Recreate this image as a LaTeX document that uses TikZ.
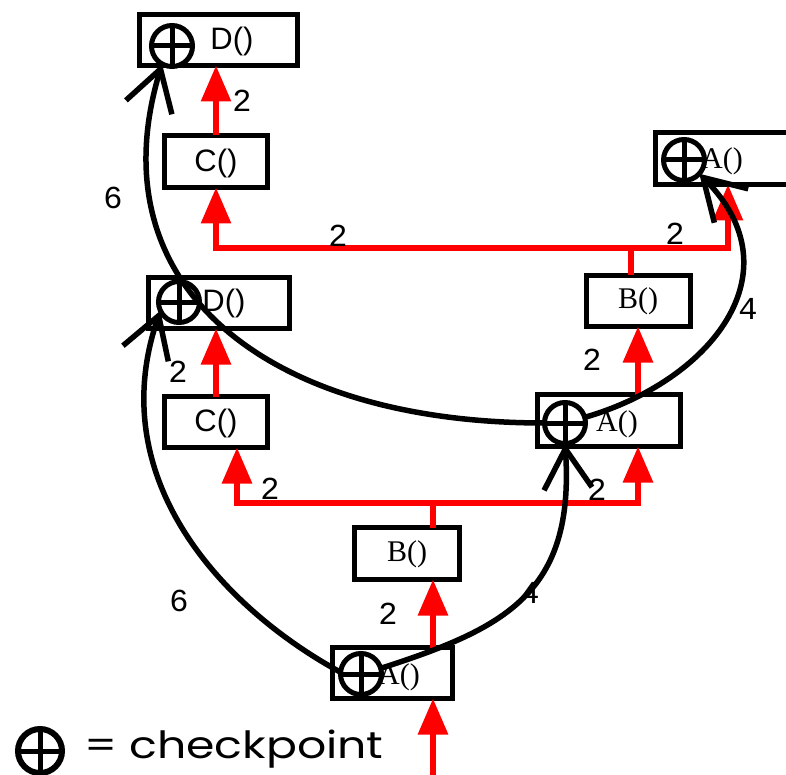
\documentclass[tikz,border=0pt]{standalone}
\usepackage{fontspec}
\usetikzlibrary{arrows.meta}
\newfontfamily\boxsans{Liberation Sans}
\newfontfamily\boxserif{Liberation Serif}
\newfontfamily\nummono{Liberation Mono}
\newfontfamily\legendfont[FakeStretch=1.22]{Poppins}
\tikzset{
  box/.style={draw=black, line width=5pt, fill=white, inner sep=0pt, outer sep=0pt},
  cpsym/.style={circle, draw=black, fill=white, line width=5pt, minimum size=41pt, inner sep=0pt, outer sep=0pt,
    path picture={\draw[line width=5pt] (path picture bounding box.north) -- (path picture bounding box.south)
      (path picture bounding box.west) -- (path picture bounding box.east);}},
  sanstext/.style={font=\boxsans\fontsize{31}{31}\selectfont, inner sep=0pt},
  seriftext/.style={font=\boxserif\fontsize{30}{30}\selectfont, inner sep=0pt},
  numlabel/.style={font=\nummono\fontsize{32}{32}\selectfont, inner sep=0pt},
  redline/.style={draw=red, line width=6pt},
  redarrow/.style={draw=red, line width=6pt, -{Triangle[length=36pt,width=29pt]}},
  ckarrow/.style={draw=black, line width=5.5pt, -{Straight Barb[length=40pt,width=48pt,line width=5.5pt]}}
}
\begin{document}
\begin{tikzpicture}[x=1pt,y=-1pt]
\useasboundingbox (0,0) rectangle (786,775);
\clip (0,0) rectangle (786,775);
% boxes
\node[box, minimum width=158pt, minimum height=51pt] (D1) at (218.5,40) {};
\node[box, minimum width=103pt, minimum height=52pt] (C1) at (216,161.5) {};
\node[box, minimum width=155pt, minimum height=52pt] (A1) at (733,158.5) {};
\node[box, minimum width=104pt, minimum height=51pt] (B1) at (638.5,301) {};
\node[box, minimum width=141pt, minimum height=51pt] (D2) at (219,303) {};
\node[box, minimum width=103pt, minimum height=51pt] (C2) at (216,422) {};
\node[box, minimum width=143pt, minimum height=52pt] (A2) at (609,420.5) {};
\node[box, minimum width=105pt, minimum height=52pt] (B2) at (407,553.5) {};
\node[box, minimum width=120pt, minimum height=51pt] (A3) at (392.5,673) {};
% box texts
\node[sanstext] (tD1) at (232,41) {D()};
\node[sanstext] (tC1) at (216,163) {C()};
\node[seriftext] (tA1) at (722,161) {A()};
\node[seriftext] (tB1) at (638,301) {B()};
\node[sanstext] (tD2) at (224,303) {D()};
\node[sanstext] (tC2) at (216,423) {C()};
\node[seriftext] (tA2) at (617,424) {A()};
\node[seriftext] (tB2) at (407,554) {B()};
\node[seriftext] (tA3) at (399,677) {A()};
% checkpoint symbols
\node[cpsym] (cpD1) at (172,46) {};
\node[cpsym] (cpA1) at (684,160) {};
\node[cpsym] (cpD2) at (179,302) {};
\node[cpsym] (cpA2) at (565,423) {};
\node[cpsym] (cpA3) at (361,674) {};
% red call edges
\coordinate (in) at (433,780);
\coordinate (j1) at (433,503);
\coordinate (j2) at (631,248);
\draw[redarrow] (in) -- (A3.south -| in);
\draw[redarrow] (A3.north -| in) -- (B2.south -| in);
\draw[redline] (B2.north -| j1) -- (j1);
\draw[redarrow] (j1) -| (C2.south -| 237,0);
\draw[redarrow] (j1) -| (A2.south -| 638,0);
\draw[redarrow] (C2.north) -- (C2.north |- D2.south);
\draw[redarrow] (A2.north -| 638,0) -- (B1.south -| 638,0);
\draw[redline] (B1.north -| j2) -- (j2);
\draw[redarrow] (j2) -| (C1.south -| 216,0);
\draw[redarrow] (j2) -| (A1.south -| 728,0);
\draw[redarrow] (C1.north) -- (C1.north |- D1.south);
% checkpoint edges
\draw[ckarrow] (cpA3.175) .. controls +(-114,-62) and +(-59,171) .. (cpD2.205);
\draw[ckarrow] (cpA3.16) .. controls +(124,-40) and +(10,150) .. (cpA2.south);
\draw[ckarrow] (cpA2.180) .. controls +(-280,0) and +(-67,221) .. (cpD1.241);
\draw[ckarrow] (cpA2.16) .. controls +(125,-36) and +(99,99) .. (cpA1.318);
% weight labels
\node[numlabel] (n1) at (242,101) {2};
\node[numlabel] (n2) at (113,198) {6};
\node[numlabel] (n3) at (338,236) {2};
\node[numlabel] (n4) at (675,234) {2};
\node[numlabel] (n5) at (748,309) {4};
\node[numlabel] (n6) at (178,372) {2};
\node[numlabel] (n7) at (592,360) {2};
\node[numlabel] (n8) at (270,489) {2};
\node[numlabel] (n9) at (597,490) {2};
\node[numlabel] (n10) at (179,601) {6};
\node[numlabel] (n11) at (388,614) {2};
\node[numlabel] (n12) at (530,593) {4};
% legend
\node[cpsym, minimum size=44pt, line width=6pt] (cpL) at (40,751) {};
\node[font=\legendfont\fontsize{37.5}{37.5}\selectfont, anchor=west, inner sep=0pt] (legend) at (84,749) {= checkpoint};
\end{tikzpicture}
\end{document}
